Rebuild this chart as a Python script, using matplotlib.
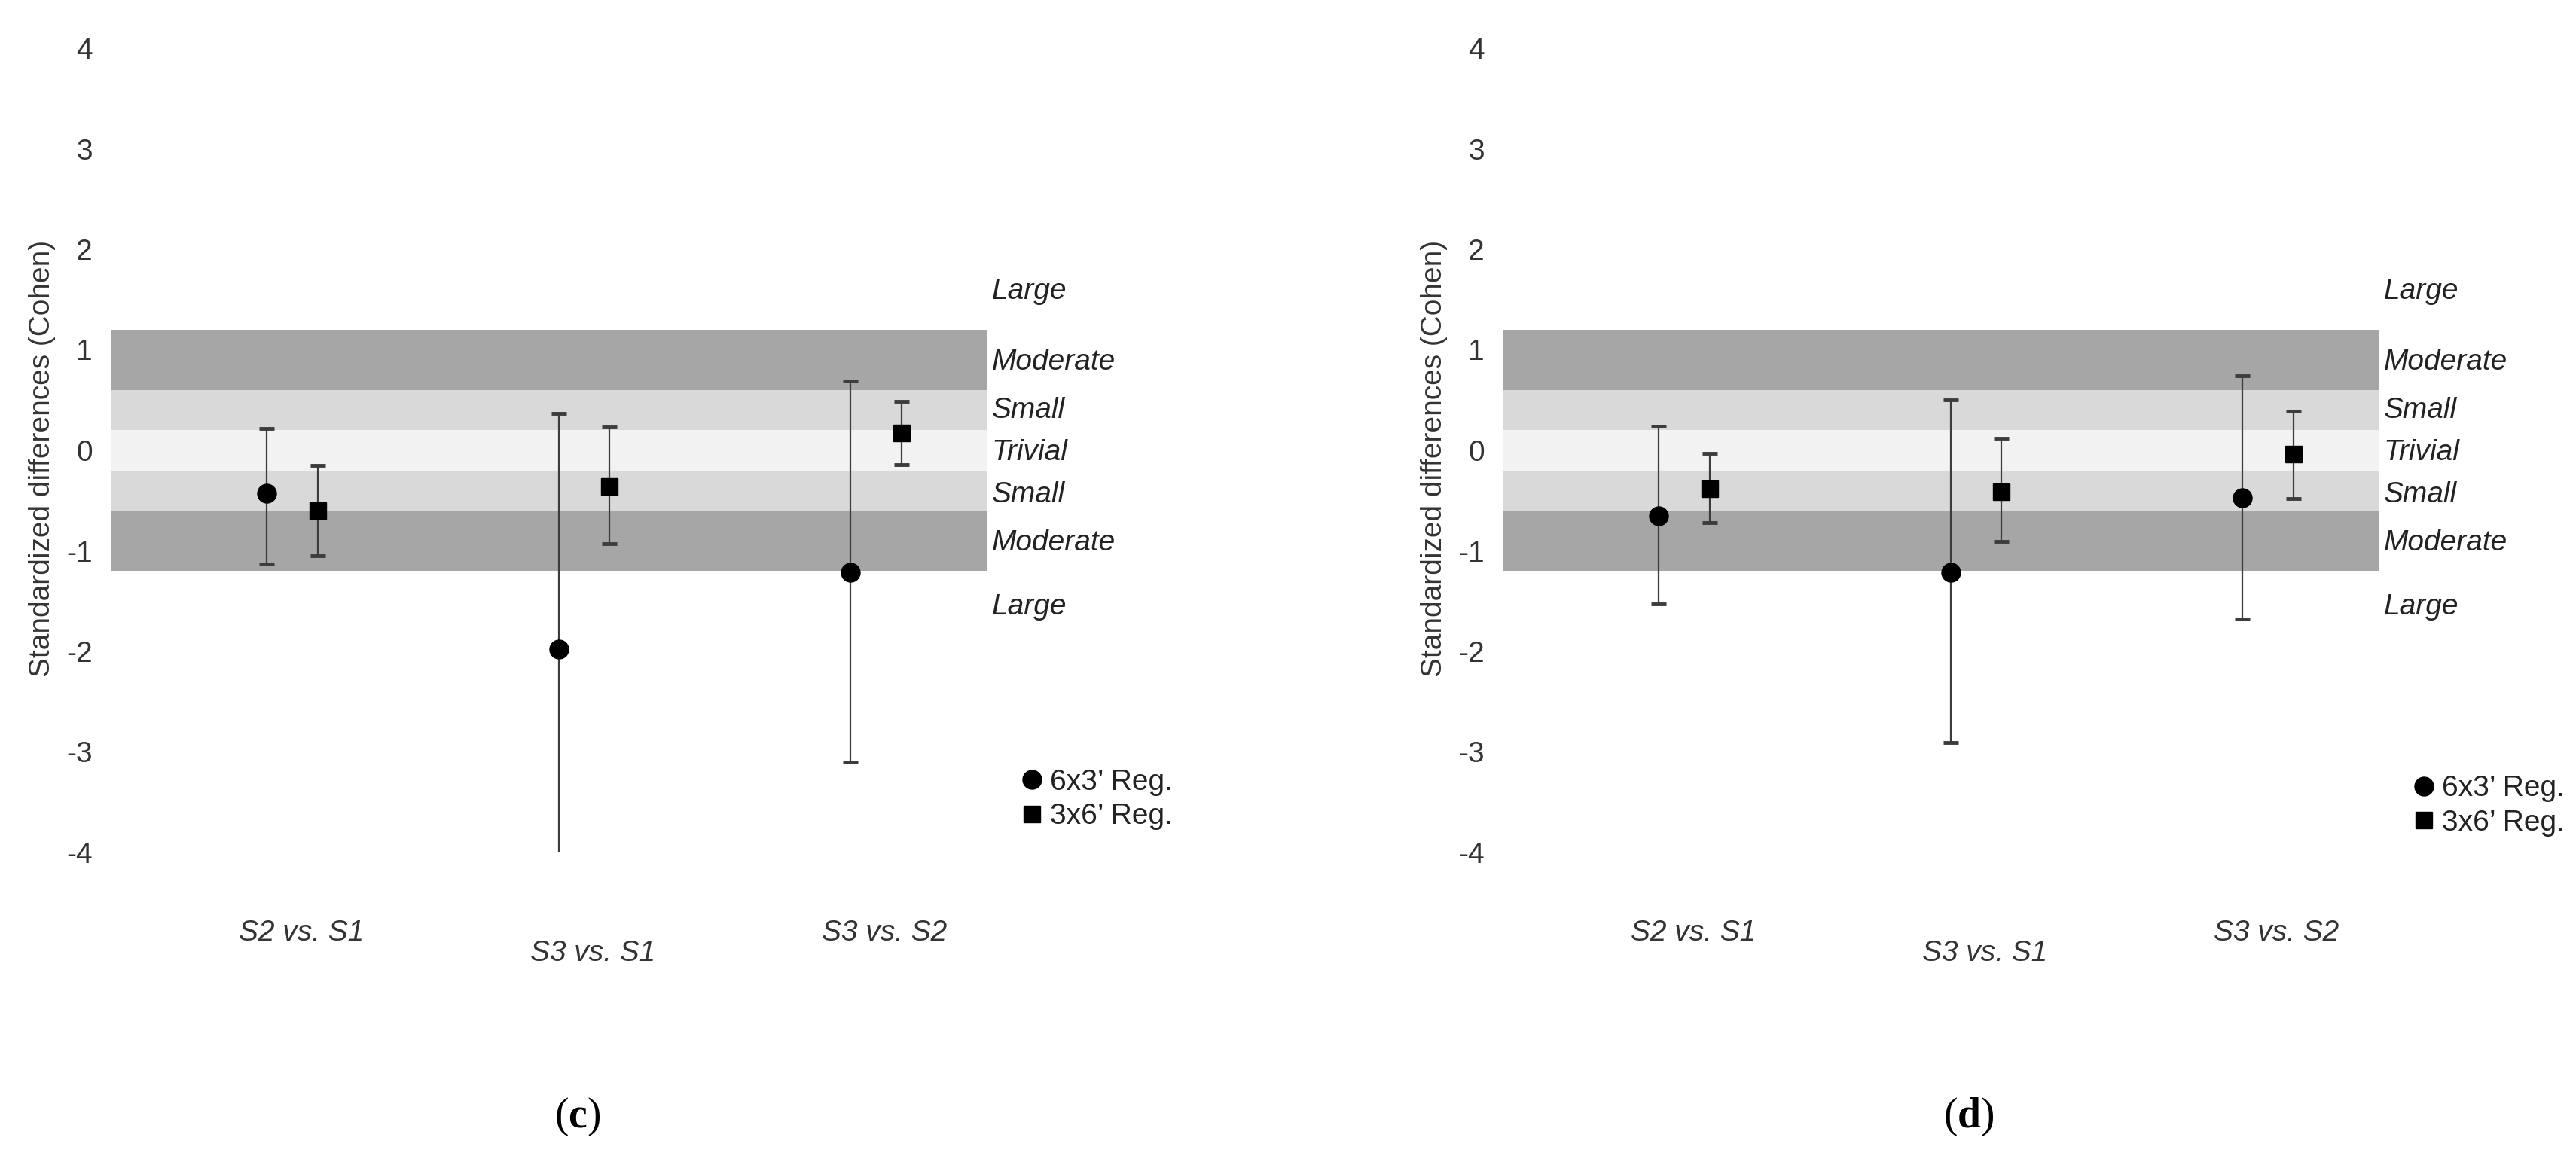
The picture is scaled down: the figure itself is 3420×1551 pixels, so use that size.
import matplotlib
matplotlib.use("Agg")
import matplotlib.pyplot as plt
from matplotlib.lines import Line2D

plt.rcParams['font.family'] = ['Liberation Sans', 'DejaVu Sans']
plt.rcParams['mathtext.fontset'] = 'custom'
plt.rcParams['mathtext.rm'] = 'Liberation Serif'
plt.rcParams['mathtext.bf'] = 'Liberation Serif:bold'

# comparisons
categories = ["S2 vs. S1", "S3 vs. S1", "S3 vs. S2"]
series_names = ["6x3\u2019 Reg.", "3x6\u2019 Reg."]

# panel (c)
c_circle_mean = [-0.43, -1.98, -1.21]
c_circle_low = [-1.13, -4.02, -3.10]
c_circle_high = [0.22, 0.37, 0.69]
c_square_mean = [-0.60, -0.36, 0.17]
c_square_low = [-1.05, -0.93, -0.14]
c_square_high = [-0.15, 0.23, 0.49]

# panel (d)
d_circle_mean = [-0.65, -1.21, -0.47]
d_circle_low = [-1.53, -2.91, -1.68]
d_circle_high = [0.24, 0.50, 0.74]
d_square_mean = [-0.38, -0.41, -0.04]
d_square_low = [-0.72, -0.91, -0.48]
d_square_high = [-0.03, 0.12, 0.39]

# effect size thresholds (Hopkins)
band_edges = [(0.6, 1.2), (0.2, 0.6), (-0.2, 0.2), (-0.6, -0.2), (-1.2, -0.6)]
band_colors = ['#a6a6a6', '#d9d9d9', '#f2f2f2', '#d9d9d9', '#a6a6a6']
band_names = ["Large", "Moderate", "Small", "Trivial", "Small", "Moderate", "Large"]
band_label_y = [1.58, 0.88, 0.4, -0.02, -0.44, -0.92, -1.56]
yticks = [4, 3, 2, 1, 0, -1, -2, -3, -4]

FS = 28
W, H = 3420, 1551
fig = plt.figure(figsize=(W / 100, H / 100), dpi=100)


def panel(x0, cm, cl, ch, sm, sl, sh, tag, tag_x, leg_y):
    ax = fig.add_axes([x0 / W, (H - 1132) / H, 1162 / W, 1068 / H])
    ax.set_xlim(-0.62, 2.38)
    ax.set_ylim(-4, 4)
    for (lo, hi), col in zip(band_edges, band_colors):
        ax.axhspan(lo, hi, color=col, lw=0, zorder=0)
    xs = list(range(len(categories)))
    xc = [x - 0.087 for x in xs]
    xq = [x + 0.087 for x in xs]
    for xpos, m, lo, hi, mk, ms in [(xc, cm, cl, ch, 'o', 18), (xq, sm, sl, sh, 's', 16.5)]:
        err = [[a - b for a, b in zip(m, lo)], [b - a for a, b in zip(m, hi)]]
        _, caps, bars = ax.errorbar(xpos, m, yerr=err, fmt=mk, ms=ms, color='black',
                                    ecolor='#3c3c3c', elinewidth=1.6, capsize=7.5,
                                    capthick=3.5, zorder=3)
        for c in caps:
            c.set_color('black')
    ax.set_yticks(yticks)
    ax.set_yticklabels([str(t) for t in yticks], fontsize=FS, color='#333333')
    ax.tick_params(axis='y', length=0, pad=18)
    ax.set_xticks([])
    for s in ax.spines.values():
        s.set_visible(False)
    ax.set_ylabel("Standardized differences (Cohen)", fontsize=28, color='#333333')
    ax.yaxis.set_label_coords(-0.064, 0.49)
    for name, y in zip(band_names, band_label_y):
        ax.text(1.006, y, name, transform=ax.get_yaxis_transform(), fontsize=FS,
                style='italic', va='center', ha='left', color='#222222')
    cat_y = [-4.8, -5.0, -4.8]
    for x, lab, y in zip(xs, categories, cat_y):
        ax.text(x + 0.03, y, lab, fontsize=FS, style='italic', ha='center',
                va='center', color='#333333', clip_on=False)
    handles = [Line2D([], [], ls='none', marker='o', ms=18, color='black'),
               Line2D([], [], ls='none', marker='s', ms=16.5, color='black')]
    leg = ax.legend(handles, series_names, loc='center left', bbox_to_anchor=(1.042, leg_y),
                    frameon=False, fontsize=FS, handlelength=0.6, handletextpad=0.3,
                    labelspacing=0.25, borderpad=0, borderaxespad=0)
    for t in leg.get_texts():
        t.set_color('#222222')
    fig.text(tag_x / W, 1 - 1483 / H, '(' + r'$\mathbf{' + tag + '}$' + ')',
             fontsize=40, family='Liberation Serif', ha='center', va='center')
    return ax


panel(148, c_circle_mean, c_circle_low, c_circle_high,
      c_square_mean, c_square_low, c_square_high, 'c', 767, 0.066)
panel(1996, d_circle_mean, d_circle_low, d_circle_high,
      d_square_mean, d_square_low, d_square_high, 'd', 2614, 0.058)

fig.savefig("out.png", dpi=100, facecolor='white')
